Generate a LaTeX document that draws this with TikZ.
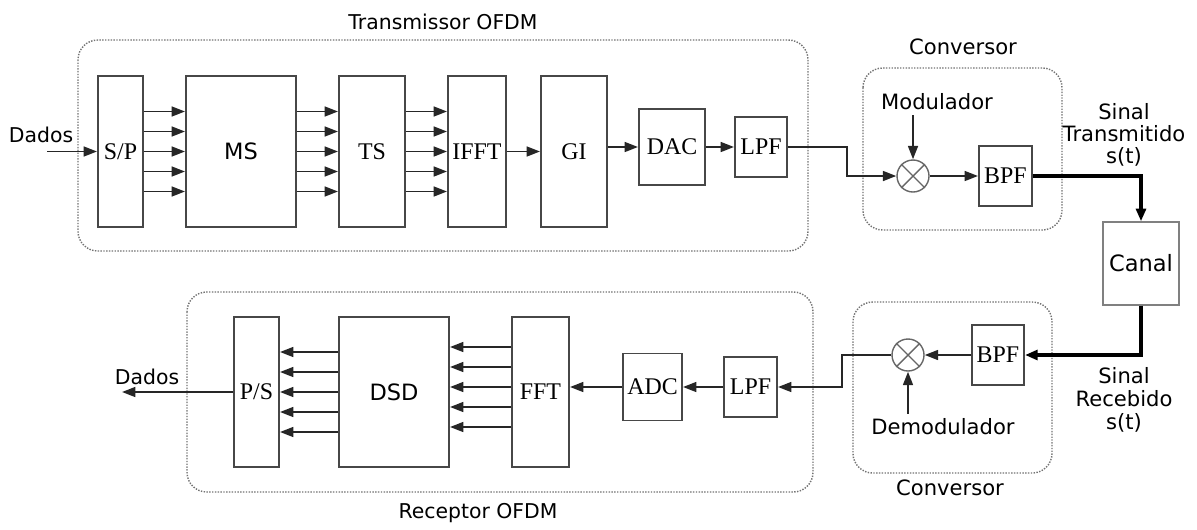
\documentclass[tikz,border=0pt]{standalone}
\usepackage{fontspec}
\setmainfont{Liberation Serif}
\setsansfont{DejaVu Sans}
\usepackage{xcolor}
\usetikzlibrary{arrows.meta,positioning,calc}

\begin{document}
\begin{tikzpicture}[x=0.025cm,y=-0.025cm,
  every node/.style={font=\sffamily\fontsize{14.5}{16}\selectfont},
  lbl/.style={font=\sffamily\fontsize{15}{17.5}\selectfont,align=center},
  blk/.style 2 args={draw=black!72,line width=1.4pt,inner sep=0pt,
    minimum width=#1*0.025cm,minimum height=#2*0.025cm,
    font=\rmfamily\fontsize{17}{19}\selectfont},
  sblk/.style 2 args={blk={#1}{#2},font=\sffamily\fontsize{16}{18}\selectfont},
  mix/.style={circle,draw=black!60,line width=1pt,minimum size=0.8cm,inner sep=0pt},
  grp/.style={draw=black!55,densely dotted,line width=1pt,rounded corners=14pt},
  arr/.style={draw=black!85,line width=1.4pt,-{Triangle[length=9.5pt,width=7pt]}},
  thk/.style={draw=black,line width=2.8pt,-{Triangle[length=9pt,width=7pt]}}]
  % groups
  \draw[grp] (78,40) rectangle (808,251);
  \draw[grp] (863,68) rectangle (1062,230);
  \draw[grp] (187,292) rectangle (813,492);
  \draw[grp] (853,302) rectangle (1052,473);
  \node (txlbl) at (443,22){Transmissor OFDM};
  \node (rxlbl) at (478,513){Receptor OFDM};
  \node[lbl] (cvalbl) at (963,47){Conversor};
  \node[lbl] (cvblbl) at (950,488){Conversor};
  % transmitter
  \node[blk={45}{151}] (sp) at (120.5,151.5){S/P};
  \node[sblk={110}{151}] (ms) at (241,151.5){MS};
  \node[blk={66}{151}] (ts) at (372,151.5){TS};
  \node[blk={58}{151}] (ifft) at (477,151.5){IFFT};
  \node[blk={66}{151}] (gi) at (574,151.5){GI};
  \node[blk={66}{76}] (dac) at (672,147){DAC};
  \node[blk={52}{60}] (lpfa) at (761,147){LPF};
  \node[mix] (mixa) at (913,176){};
  \node[blk={53}{60}] (bpfa) at (1005.5,176){BPF};
  \node[lbl] (mod) at (937,102){Modulador};
  \node[lbl] (stx) at (1124,135){Sinal\\[-2pt]Transmitido\\[-2pt]s(t)};
  \node[sblk={76}{83},draw=black!50,line width=1pt] (canal) at (1141,263.5){Canal};
  % receiver
  \node[blk={52}{60}] (bpfb) at (998,355){BPF};
  \node[mix] (mixb) at (908,355){};
  \node[lbl] (demod) at (943,427){Demodulador};
  \node[lbl] (srx) at (1124,400){Sinal\\[-1pt]Recebido\\[-1pt]s(t)};
  \node[blk={53}{60}] (lpfb) at (750.5,387){LPF};
  \node[blk={59}{67}] (adc) at (652.5,387){ADC};
  \node[blk={57}{150}] (fft) at (540.5,392){FFT};
  \node[sblk={110}{150}] (dsd) at (394,392){DSD};
  \node[blk={45}{150}] (ps) at (256.5,392){P/S};
  \coordinate (din) at (47,151.5);
  \coordinate (dout) at (122,392);
  \node (dina) at (41,135){Dados};
  \node (douta) at (147,377){Dados};
  % mixer crosses
  \foreach \m in {mixa,mixb} {
    \draw[black!60,line width=1pt] (\m.45) -- (\m.225) (\m.135) -- (\m.315);
  }
  % connectors
  \draw[arr] (din) -- (sp.west);
  \foreach \d in {-40,-20,0,20,40} {
    \draw[arr] ($(sp.east)+(0,\d)$) -- ($(ms.west)+(0,\d)$);
    \draw[arr] ($(ms.east)+(0,\d)$) -- ($(ts.west)+(0,\d)$);
    \draw[arr] ($(ts.east)+(0,\d)$) -- ($(ifft.west)+(0,\d)$);
    \draw[arr] ($(dsd.west)+(0,\d)$) -- ($(ps.east)+(0,\d)$);
  }
  \foreach \d in {-45,-25,-5,15,35} {
    \draw[arr] ($(fft.west)+(0,\d)$) -- ($(dsd.east)+(0,\d)$);
  }
  \draw[arr] (ifft.east) -- (gi.west);
  \draw[arr] (gi.east |- dac.west) -- (dac.west);
  \draw[arr] (dac.east) -- (lpfa.west);
  \draw[arr] (lpfa.east) -- ++(59,0) |- (mixa.west);
  \draw[arr] (mixa.north |- mod.south) -- (mixa.north);
  \draw[arr] (mixa.east) -- (bpfa.west);
  \draw[thk] (bpfa.east) -| (canal.north);
  \draw[thk] (canal.south) |- (bpfb.east);
  \draw[arr] (bpfb.west) -- (mixb.east);
  \draw[arr] (mixb.south |- demod.north) -- (mixb.south);
  \draw[arr] (mixb.west) -- ++(-49,0) |- (lpfb.east);
  \draw[arr] (lpfb.west) -- (adc.east);
  \draw[arr] (adc.west) -- (fft.east |- adc.west);
  \draw[arr] (ps.west) -- (dout);
  \useasboundingbox (0,0) rectangle (1197,529);
\end{tikzpicture}
\end{document}
